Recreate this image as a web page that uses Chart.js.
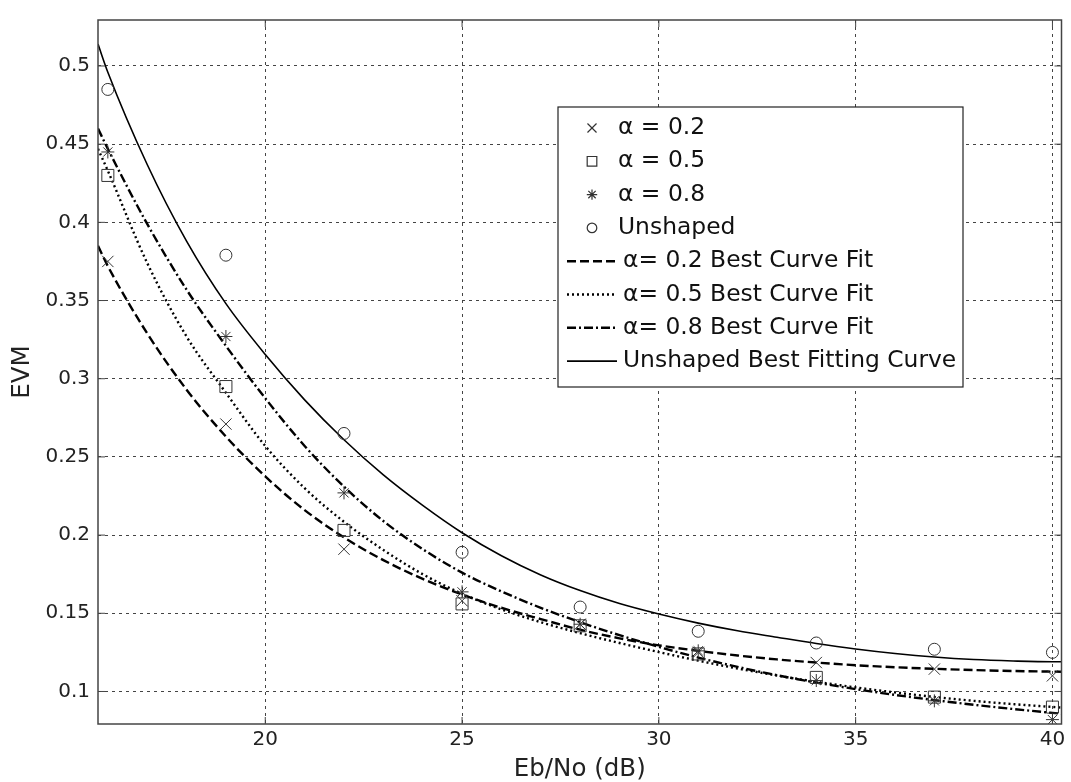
<!DOCTYPE html>
<html>
<head>
<meta charset="utf-8">
<script src="https://cdn.jsdelivr.net/npm/chart.js@4.4.0/dist/chart.umd.min.js"></script>
<style>
  body { margin: 0; background: #fff; }
  #wrap { width: 1071px; height: 782px; }
</style>
</head>
<body>
<div id="wrap"><canvas id="evmChart" width="1071" height="782"></canvas></div>
<script>
// measured points (Eb/No in dB)
const snrPoints = [16, 19, 22, 25, 28, 31, 34, 37, 40];
const evmAlpha02 = [0.375, 0.271, 0.191, 0.158, 0.143, 0.125, 0.1185, 0.1143, 0.110];
const evmAlpha05 = [0.430, 0.295, 0.203, 0.156, 0.142, 0.124, 0.109, 0.0964, 0.090];
const evmAlpha08 = [0.445, 0.327, 0.227, 0.1637, 0.143, 0.126, 0.107, 0.094, 0.082];
const evmUnshaped = [0.485, 0.379, 0.265, 0.189, 0.154, 0.1385, 0.131, 0.127, 0.125];

// fitted curves
const fitSnr = [15.75, 16, 17, 18, 19, 20, 21, 22, 23, 24, 25, 26, 27, 28, 29, 30, 31, 32, 33, 34, 35, 36, 37, 38, 39, 40, 40.23];
const fitAlpha02 = [0.385, 0.372, 0.329, 0.293, 0.263, 0.2375, 0.216, 0.1985, 0.184, 0.172, 0.162, 0.1535, 0.1463, 0.1395, 0.134, 0.1295, 0.126, 0.123, 0.1205, 0.1185, 0.1168, 0.1155, 0.1145, 0.1137, 0.1131, 0.1127, 0.1126];
const fitAlpha05 = [0.447, 0.433, 0.374, 0.327, 0.291, 0.257, 0.230, 0.2085, 0.1905, 0.175, 0.1625, 0.1525, 0.1443, 0.1373, 0.131, 0.1252, 0.1197, 0.1147, 0.1102, 0.1062, 0.1026, 0.0994, 0.0965, 0.094, 0.0919, 0.0901, 0.0897];
const fitAlpha08 = [0.460, 0.447, 0.399, 0.357, 0.321, 0.2875, 0.257, 0.231, 0.209, 0.191, 0.176, 0.164, 0.1535, 0.1443, 0.136, 0.1285, 0.1217, 0.1157, 0.1104, 0.1057, 0.1015, 0.0978, 0.0945, 0.0915, 0.0888, 0.0863, 0.0858];
const fitUnshaped = [0.514, 0.496, 0.437, 0.388, 0.348, 0.3155, 0.2865, 0.261, 0.2385, 0.219, 0.2015, 0.1868, 0.1745, 0.1645, 0.1562, 0.1495, 0.1437, 0.1388, 0.1347, 0.1307, 0.1272, 0.1243, 0.122, 0.1204, 0.1195, 0.119, 0.119];

const xTicks = [20, 25, 30, 35, 40];
const yTicks = [0.1, 0.15, 0.2, 0.25, 0.3, 0.35, 0.4, 0.45, 0.5];
const yTickLabels = ['0.1', '0.15', '0.2', '0.25', '0.3', '0.35', '0.4', '0.45', '0.5'];

const seriesLabels = [
  'α = 0.2', 'α = 0.5', 'α = 0.8', 'Unshaped',
  'α= 0.2 Best Curve Fit', 'α= 0.5 Best Curve Fit', 'α= 0.8 Best Curve Fit', 'Unshaped Best Fitting Curve'
];

function pairs(xs, ys) {
  return xs.map((x, i) => ({ x: x, y: ys[i] }));
}

const FONT = 'DejaVu Sans';
const MARK = '#333';

function markers(label, ys, style, r) {
  return {
    label: label,
    data: pairs(snrPoints, ys),
    showLine: false,
    pointStyle: style,
    pointRadius: r,
    pointBorderWidth: 1,
    borderColor: MARK,
    backgroundColor: 'rgba(0,0,0,0)'
  };
}

function curve(label, ys, dash, width) {
  return {
    label: label,
    data: pairs(fitSnr, ys),
    showLine: true,
    pointRadius: 0,
    borderColor: '#000',
    borderWidth: width,
    borderDash: dash,
    cubicInterpolationMode: 'monotone',
    fill: false
  };
}

// box around the plot, inward ticks and the legend
const framePlugin = {
  id: 'framePlugin',
  afterDraw(chart) {
    const ctx = chart.ctx;
    const a = chart.chartArea;
    const xs = chart.scales.x, ys = chart.scales.y;
    ctx.save();
    ctx.strokeStyle = '#444';
    ctx.lineWidth = 1.5;
    ctx.strokeRect(a.left, a.top, a.right - a.left, a.bottom - a.top);
    ctx.lineWidth = 1;
    ctx.beginPath();
    xTicks.forEach(v => {
      const px = xs.getPixelForValue(v);
      ctx.moveTo(px, a.bottom); ctx.lineTo(px, a.bottom - 7);
      ctx.moveTo(px, a.top); ctx.lineTo(px, a.top + 7);
    });
    yTicks.forEach(v => {
      const py = ys.getPixelForValue(v);
      ctx.moveTo(a.left, py); ctx.lineTo(a.left + 7, py);
      ctx.moveTo(a.right, py); ctx.lineTo(a.right - 7, py);
    });
    ctx.stroke();

    // legend
    const box = { x: 558, y: 107, w: 405, h: 280 };
    ctx.fillStyle = '#fff';
    ctx.fillRect(box.x, box.y, box.w, box.h);
    ctx.strokeStyle = '#222';
    ctx.lineWidth = 1.2;
    ctx.strokeRect(box.x, box.y, box.w, box.h);
    ctx.font = '23.4px "' + FONT + '"';
    ctx.textBaseline = 'middle';
    chart.data.datasets.forEach((ds, i) => {
      const cy = 128 + i * 33.3;
      if (ds.showLine === false) {
        ctx.strokeStyle = MARK;
        ctx.fillStyle = 'rgba(0,0,0,0)';
        ctx.setLineDash([]);
        Chart.helpers.drawPoint(ctx, { pointStyle: ds.pointStyle, radius: ds.pointRadius * 0.8, borderWidth: 1, rotation: 0 }, 592, cy);
        ctx.fillStyle = '#111';
        ctx.fillText(ds.label, 618, cy);
      } else {
        ctx.strokeStyle = '#000';
        ctx.lineWidth = ds.borderWidth;
        ctx.setLineDash(ds.borderDash || []);
        ctx.beginPath();
        ctx.moveTo(567, cy);
        ctx.lineTo(617, cy);
        ctx.stroke();
        ctx.setLineDash([]);
        ctx.fillStyle = '#111';
        ctx.fillText(ds.label, 623, cy);
      }
    });
    ctx.restore();
  }
};

const ctx = document.getElementById('evmChart').getContext('2d');
new Chart(ctx, {
  type: 'scatter',
  data: {
    datasets: [
      markers(seriesLabels[0], evmAlpha02, 'crossRot', 8),
      markers(seriesLabels[1], evmAlpha05, 'rect', 8.5),
      markers(seriesLabels[2], evmAlpha08, 'star', 6.5),
      markers(seriesLabels[3], evmUnshaped, 'circle', 6),
      curve(seriesLabels[4], fitAlpha02, [9, 4], 2.4),
      curve(seriesLabels[5], fitAlpha05, [2, 3], 2.4),
      curve(seriesLabels[6], fitAlpha08, [9, 3, 2, 3], 2.4),
      curve(seriesLabels[7], fitUnshaped, [], 1.6)
    ]
  },
  options: {
    responsive: false,
    animation: false,
    layout: { padding: { top: 10, right: 7, bottom: 0, left: 0 } },
    plugins: {
      legend: { display: false },
      tooltip: { enabled: false }
    },
    scales: {
      x: {
        type: 'linear',
        min: 15.75,
        max: 40.23,
        afterFit: s => { s.height = 58; },
        afterBuildTicks: s => { s.ticks = xTicks.map(v => ({ value: v })); },
        ticks: {
          padding: 4,
          color: '#222',
          font: { family: FONT, size: 20 },
          callback: v => String(v)
        },
        grid: { color: '#444', lineWidth: 1, drawTicks: false },
        border: { display: false, dash: [3, 4] },
        title: {
          display: true,
          text: 'Eb/No (dB)',
          color: '#222',
          font: { family: FONT, size: 24.5, lineHeight: 1 },
          padding: { top: 0, bottom: 0 }
        }
      },
      y: {
        type: 'linear',
        min: 0.0792,
        max: 0.5294,
        afterFit: s => { s.width = 98; },
        afterBuildTicks: s => { s.ticks = yTicks.map(v => ({ value: v })); },
        ticks: {
          padding: 8,
          color: '#222',
          font: { family: FONT, size: 20 },
          callback: v => yTickLabels[yTicks.findIndex(t => Math.abs(t - v) < 1e-6)]
        },
        grid: { color: '#444', lineWidth: 1, drawTicks: false },
        border: { display: false, dash: [3, 4] },
        title: {
          display: true,
          text: 'EVM',
          color: '#222',
          font: { family: FONT, size: 24.5, lineHeight: 1 },
          padding: { top: 10, bottom: 0 }
        }
      }
    }
  },
  plugins: [framePlugin]
});
</script>
</body>
</html>
